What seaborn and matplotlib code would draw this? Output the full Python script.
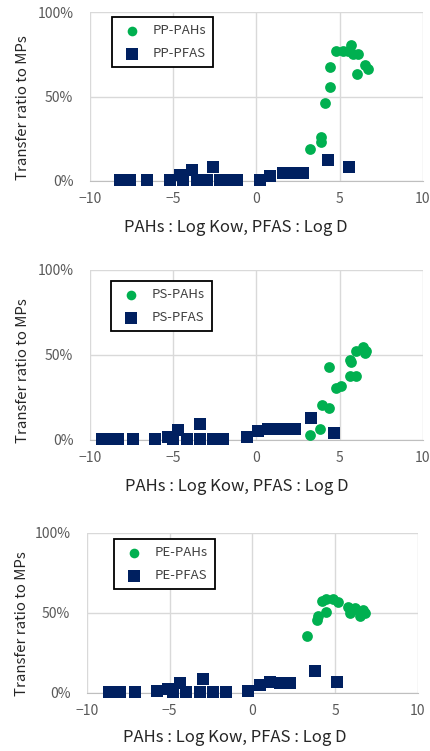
import numpy as np
import pandas as pd
import matplotlib.pyplot as plt
import seaborn as sns

# ==========================================================
# DATA
# ==========================================================

pp_pah_x = [3.24, 3.9, 3.9, 4.14, 4.4, 4.4, 4.8, 5.2, 5.5, 5.7, 5.8, 6.1, 6.04, 6.5, 6.7]
pp_pah_y = [18.9, 23.2, 26.2, 45.9, 55.7, 67.5, 77.0, 77.0, 77.0, 80.3, 75.4, 75.0, 63.6, 68.5, 66.5]

pp_pfas_x = [-8.2, -7.9, -7.6, -6.6, -5.2, -4.6, -3.9, -4.4, -3.6, -2.6, -3.0, -2.2, -1.6, -1.2,
             0.2, 0.8, 1.6, 2.0, 2.4, 2.8, 4.3, 5.56]
pp_pfas_y = [0.5, 0.5, 0.5, 0.5, 0.5, 3.5, 6.5, 0.5, 0.5, 8.5, 0.5, 0.5, 0.5, 0.5,
             0.5, 3.0, 5.0, 5.0, 5.0, 5.0, 12.5, 8.0]

ps_pah_x = [3.24, 3.84, 3.96, 4.36, 4.36, 4.8, 5.1, 5.6, 6.0, 5.6, 5.7, 6.0, 6.4, 6.5, 6.6]
ps_pah_y = [2.9, 6.5, 20.6, 18.6, 42.7, 30.4, 31.8, 37.8, 37.8, 47.0, 46.0, 52.5, 54.5, 51.0, 52.5]

ps_pfas_x = [-9.3, -8.6, -8.3, -7.4, -6.1, -5.3, -4.7, -5.0, -4.2, -3.4, -2.6, -2.0, -3.4,
             -0.6, 0.1, 0.7, 1.2, 1.8, 2.3, 3.3, 4.66]
ps_pfas_y = [0.5, 0.5, 0.5, 0.5, 0.5, 2.0, 5.9, 0.5, 0.5, 0.5, 0.5, 0.5, 9.4,
             1.6, 5.3, 6.5, 6.5, 6.5, 6.5, 12.7, 4.3]

pe_pah_x = [3.27, 3.87, 3.97, 4.43, 4.17, 4.47, 4.87, 5.18, 5.78, 5.88, 6.18, 6.48, 6.68, 6.78, 6.0]
pe_pah_y = [35.6, 45.6, 48.0, 50.8, 57.7, 58.8, 58.8, 57.0, 54.0, 49.8, 53.0, 48.0, 51.9, 49.8, 52.0]

pe_pfas_x = [-8.7, -8.0, -7.1, -5.8, -5.1, -4.4, -4.8, -4.0, -3.2, -2.4, -1.6, -3.0,
             -0.3, 0.45, 1.05, 1.66, 2.26, 3.77, 5.1]
pe_pfas_y = [0.5, 0.5, 0.5, 1.0, 2.3, 6.3, 0.5, 0.5, 0.5, 0.5, 0.5, 8.6,
             1.2, 5.2, 6.9, 6.3, 6.3, 13.8, 6.9]

panels = [
    ("PP", pp_pah_x, pp_pah_y, pp_pfas_x, pp_pfas_y),
    ("PS", ps_pah_x, ps_pah_y, ps_pfas_x, ps_pfas_y),
    ("PE", pe_pah_x, pe_pah_y, pe_pfas_x, pe_pfas_y),
]

# ==========================================================
# STYLE / LAYOUT
# ==========================================================

sns.set_style("white")
plt.rcParams["font.family"] = ["Noto Sans CJK KR", "DejaVu Sans"]

GREEN = "#00b050"
NAVY = "#002060"
TICK = "#595959"

W, H = 431, 751
fig = plt.figure(figsize=(W / 100, H / 100), dpi=100)

# pixel boxes: (left, top, right, bottom) of plot area
boxes = [(90, 12, 423, 181), (90, 270, 423, 440), (87, 533, 418, 693)]
# x label centre, y label centre (pixels)
xlab_pos = [(236, 228), (237, 487), (235, 738)]
ylab_pos = [(23, 108), (23, 371), (22, 624)]
# legend upper-left corner (pixels)
leg_pos = [(112, 17), (111, 281), (114, 539)]

for (name, ax_x, ax_y, fx, fy), box, xl, yl, lg in zip(panels, boxes, xlab_pos, ylab_pos, leg_pos):
    l, t, r, b = box
    ax = fig.add_axes([l / W, 1 - b / H, (r - l) / W, (b - t) / H])

    pah = pd.DataFrame({"x": ax_x, "y": ax_y})
    pfas = pd.DataFrame({"x": fx, "y": fy})

    sns.scatterplot(data=pfas, x="x", y="y", ax=ax, marker="s", color=NAVY, s=78,
                    linewidth=0, label=f"{name}-PFAS", clip_on=False, zorder=3)
    sns.scatterplot(data=pah, x="x", y="y", ax=ax, marker="o", color=GREEN, s=60,
                    linewidth=0, label=f"{name}-PAHs", clip_on=False, zorder=4)

    ax.set_xlim(-10, 10)
    ax.set_ylim(0, 100)
    ax.set_xticks([-10, -5, 0, 5, 10])
    ax.set_yticks([0, 50, 100])
    ax.set_yticklabels(["0%", "50%", "100%"])
    ax.tick_params(length=0, labelsize=10, colors=TICK)
    ax.tick_params(axis="x", pad=8)
    ax.tick_params(axis="y", pad=12)
    ax.grid(True, color="#d9d9d9", linewidth=1)
    ax.set_axisbelow(True)
    for side in ["top", "right", "left"]:
        ax.spines[side].set_visible(False)
    ax.spines["bottom"].set_color("#bfbfbf")

    ax.set_xlabel("PAHs : Log Kow, PFAS : Log D", fontsize=12, color="#262626")
    ax.set_ylabel("Transfer ratio to MPs", fontsize=10.8, color="#262626")
    ax.xaxis.set_label_coords(xl[0] / W, 1 - xl[1] / H, transform=fig.transFigure)
    ax.yaxis.set_label_coords(yl[0] / W, 1 - yl[1] / H, transform=fig.transFigure)
    ax.xaxis.label.set_va("center")
    ax.yaxis.label.set_va("center")

    handles, labels = ax.get_legend_handles_labels()
    leg = ax.legend(handles[::-1], labels[::-1], loc="upper left",
                    bbox_to_anchor=(lg[0] / W, 1 - lg[1] / H),
                    bbox_transform=fig.transFigure, fontsize=9.5, frameon=True,
                    fancybox=False, edgecolor="black", framealpha=1,
                    handletextpad=0.5, borderpad=0.55, labelspacing=0.75,
                    borderaxespad=0, markerscale=0.9)
    leg.get_frame().set_linewidth(1.3)
    for txt in leg.get_texts():
        txt.set_color("#404040")

fig.savefig("out.png", dpi=100)
